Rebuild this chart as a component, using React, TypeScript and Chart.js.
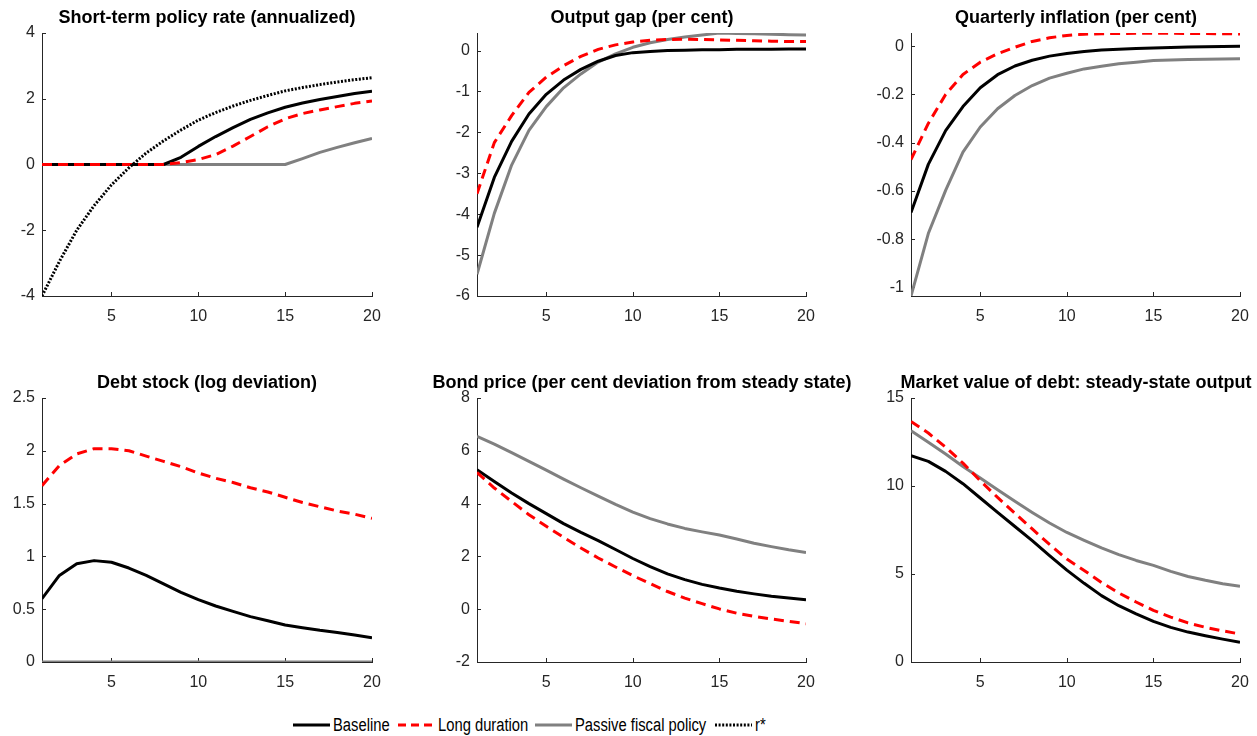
import React, { useEffect, useRef } from "react";
import { Chart, registerables } from "chart.js";

Chart.register(...registerables);

// ---------------- data ----------------
const periods = [1, 2, 3, 4, 5, 6, 7, 8, 9, 10, 11, 12, 13, 14, 15, 16, 17, 18, 19, 20];
const xTickValues = [5, 10, 15, 20];

const policyBaseline = [0, 0, 0, 0, 0, 0, 0, 0, 0.22, 0.55, 0.85, 1.12, 1.37, 1.57, 1.74, 1.87, 1.98, 2.07, 2.16, 2.23];
const policyLong = [0, 0, 0, 0, 0, 0, 0, 0, 0.06, 0.15, 0.3, 0.56, 0.85, 1.15, 1.39, 1.55, 1.66, 1.76, 1.86, 1.93];
const policyPassive = [0, 0, 0, 0, 0, 0, 0, 0, 0, 0, 0, 0, 0, 0, 0, 0.18, 0.37, 0.52, 0.66, 0.79];
const policyRstar = [-4.0, -2.95, -2.0, -1.25, -0.62, -0.1, 0.35, 0.72, 1.05, 1.35, 1.58, 1.78, 1.95, 2.1, 2.24, 2.34, 2.43, 2.51, 2.58, 2.64];
const policyTicks = [-4, -2, 0, 2, 4];

const gapBaseline = [-4.32, -3.1, -2.22, -1.55, -1.07, -0.72, -0.46, -0.26, -0.12, -0.05, -0.02, 0.0, 0.01, 0.02, 0.02, 0.03, 0.03, 0.03, 0.04, 0.04];
const gapLong = [-3.5, -2.25, -1.59, -1.02, -0.65, -0.37, -0.14, 0.03, 0.14, 0.21, 0.25, 0.27, 0.28, 0.27, 0.26, 0.25, 0.24, 0.23, 0.22, 0.22];
const gapPassive = [-5.47, -3.98, -2.8, -1.95, -1.37, -0.91, -0.57, -0.28, -0.08, 0.08, 0.19, 0.27, 0.33, 0.38, 0.43, 0.42, 0.41, 0.4, 0.39, 0.38];
const gapTicks = [-6, -5, -4, -3, -2, -1, 0];

const inflBaseline = [-0.69, -0.49, -0.35, -0.25, -0.172, -0.118, -0.082, -0.058, -0.041, -0.03, -0.022, -0.016, -0.012, -0.009, -0.007, -0.005, -0.003, -0.002, -0.001, 0.0];
const inflLong = [-0.47, -0.32, -0.2, -0.117, -0.066, -0.031, -0.004, 0.02, 0.035, 0.045, 0.05, 0.052, 0.053, 0.054, 0.054, 0.054, 0.053, 0.053, 0.052, 0.051];
const inflPassive = [-1.036, -0.777, -0.598, -0.439, -0.335, -0.259, -0.204, -0.163, -0.132, -0.112, -0.094, -0.083, -0.073, -0.066, -0.059, -0.057, -0.055, -0.054, -0.053, -0.052];
const inflTicks = [-1, -0.8, -0.6, -0.4, -0.2, 0];

const debtBaseline = [0.6, 0.82, 0.93, 0.96, 0.945, 0.89, 0.82, 0.74, 0.66, 0.59, 0.53, 0.48, 0.43, 0.39, 0.35, 0.325, 0.3, 0.28, 0.255, 0.23];
const debtLong = [1.67, 1.86, 1.97, 2.02, 2.02, 2.0, 1.95, 1.9, 1.85, 1.79, 1.74, 1.7, 1.65, 1.61, 1.56, 1.51, 1.47, 1.43, 1.4, 1.36];
const debtPassive = [0, 0, 0, 0, 0, 0, 0, 0, 0, 0, 0, 0, 0, 0, 0, 0, 0, 0, 0, 0];
const debtTicks = [0, 0.5, 1, 1.5, 2, 2.5];

const bondBaseline = [5.28, 4.84, 4.4, 4.0, 3.62, 3.24, 2.91, 2.6, 2.26, 1.92, 1.61, 1.34, 1.12, 0.94, 0.8, 0.68, 0.58, 0.49, 0.42, 0.36];
const bondLong = [5.18, 4.59, 4.08, 3.58, 3.14, 2.72, 2.32, 1.94, 1.6, 1.27, 0.97, 0.67, 0.42, 0.21, 0.01, -0.15, -0.27, -0.37, -0.46, -0.55];
const bondPassive = [6.55, 6.25, 5.93, 5.6, 5.27, 4.93, 4.6, 4.28, 3.97, 3.68, 3.43, 3.23, 3.06, 2.93, 2.81, 2.66, 2.5, 2.37, 2.25, 2.15];
const bondTicks = [-2, 0, 2, 4, 6, 8];

const mvBaseline = [11.72, 11.4, 10.83, 10.13, 9.32, 8.5, 7.7, 6.9, 6.05, 5.22, 4.47, 3.77, 3.2, 2.74, 2.31, 1.97, 1.7, 1.49, 1.3, 1.12];
const mvLong = [13.67, 13.01, 12.2, 11.3, 10.3, 9.35, 8.45, 7.56, 6.68, 5.85, 5.2, 4.52, 3.92, 3.41, 2.93, 2.55, 2.22, 1.97, 1.77, 1.59];
const mvPassive = [13.14, 12.48, 11.82, 11.11, 10.45, 9.79, 9.13, 8.5, 7.9, 7.36, 6.91, 6.48, 6.1, 5.77, 5.49, 5.15, 4.86, 4.64, 4.45, 4.3];
const mvTicks = [0, 5, 10, 15];

const seriesNames = ["Baseline", "Long duration", "Passive fiscal policy", "r*"];

type Panel = {
  title: string;
  yMin: number;
  yMax: number;
  yTicks: number[];
  baseline: number[];
  long: number[];
  passive: number[];
  rstar?: number[];
};

const panels: Panel[] = [
  { title: "Short-term policy rate (annualized)", yMin: -4, yMax: 4, yTicks: policyTicks, baseline: policyBaseline, long: policyLong, passive: policyPassive, rstar: policyRstar },
  { title: "Output gap (per cent)", yMin: -6, yMax: 0.43, yTicks: gapTicks, baseline: gapBaseline, long: gapLong, passive: gapPassive },
  { title: "Quarterly inflation (per cent)", yMin: -1.036, yMax: 0.055, yTicks: inflTicks, baseline: inflBaseline, long: inflLong, passive: inflPassive },
  { title: "Debt stock (log deviation)", yMin: 0, yMax: 2.5, yTicks: debtTicks, baseline: debtBaseline, long: debtLong, passive: debtPassive },
  { title: "Bond price (per cent deviation from steady state)", yMin: -2, yMax: 8, yTicks: bondTicks, baseline: bondBaseline, long: bondLong, passive: bondPassive },
  { title: "Market value of debt: steady-state output", yMin: 0, yMax: 15, yTicks: mvTicks, baseline: mvBaseline, long: mvLong, passive: mvPassive },
];

// ---------------- styles / layout ----------------
const FONT = "Arial, 'Liberation Sans', Helvetica, sans-serif";
const AXIS = "#262626";
const GREY = "#808080";
const RED = "#ff0000";
const CANVAS_W = 440;

const cols = [
  { L: 42, R: 372 },
  { L: 477, R: 806 },
  { L: 911, R: 1240 },
];
const rows = [
  { top: 0, h: 330, T: 33, B: 296 },
  { top: 365, h: 335, T: 398, B: 662 },
];

const innerTicks = {
  id: "innerTicks",
  beforeDatasetsDraw(chart: any) {
    const { ctx, chartArea } = chart;
    const xs = chart.scales.x;
    const ys = chart.scales.y;
    ctx.save();
    ctx.strokeStyle = AXIS;
    ctx.lineWidth = 1;
    ctx.beginPath();
    xs.ticks.forEach((t: any) => {
      const px = Math.round(xs.getPixelForValue(t.value)) + 0.5;
      ctx.moveTo(px, chartArea.bottom);
      ctx.lineTo(px, chartArea.bottom - 4);
    });
    ys.ticks.forEach((t: any) => {
      const py = Math.round(ys.getPixelForValue(t.value)) + 0.5;
      ctx.moveTo(chartArea.left, py);
      ctx.lineTo(chartArea.left + 4, py);
    });
    ctx.stroke();
    ctx.restore();
  },
};

function PanelChart({ panel, col, row }: { panel: Panel; col: { L: number; R: number }; row: { top: number; h: number; T: number; B: number } }) {
  const ref = useRef<HTMLCanvasElement>(null);
  const left = Math.round((col.L + col.R) / 2 - CANVAS_W / 2);
  const yw = col.L - left;
  const pr = left + CANVAS_W - col.R;
  const titleH = row.T - row.top;
  const xh = row.top + row.h - row.B;

  useEffect(() => {
    const toXY = (arr: number[]) => periods.map((x, i) => ({ x, y: arr[i] }));
    const datasets: any[] = [];
    if (panel.rstar) {
      datasets.push({ label: seriesNames[3], data: toXY(panel.rstar), borderColor: "#000", borderWidth: 3, borderDash: [2, 1.6] });
    }
    datasets.push({ label: seriesNames[1], data: toXY(panel.long), borderColor: RED, borderWidth: 3, borderDash: [10, 6] });
    datasets.push({ label: seriesNames[0], data: toXY(panel.baseline), borderColor: "#000", borderWidth: 3 });
    datasets.push({ label: seriesNames[2], data: toXY(panel.passive), borderColor: GREY, borderWidth: 3 });

    const chart = new Chart(ref.current as HTMLCanvasElement, {
      type: "line",
      data: { datasets },
      options: {
        animation: false,
        responsive: false,
        maintainAspectRatio: false,
        layout: { padding: 0 },
        elements: {
          point: { radius: 0 },
          line: { tension: 0, borderCapStyle: "butt", borderJoinStyle: "round", fill: false },
        },
        plugins: {
          legend: { display: false },
          tooltip: { enabled: false },
          title: {
            display: true,
            text: panel.title,
            color: "#000",
            font: { family: FONT, size: 18, weight: "bold", lineHeight: 1.2 },
            padding: { top: 7, bottom: titleH - 21.6 - 7 },
          },
        },
        scales: {
          x: {
            type: "linear",
            min: 1,
            max: 20,
            grid: { display: false, drawTicks: false },
            border: { display: true, color: AXIS, width: 1 },
            ticks: { color: AXIS, font: { family: FONT, size: 16 }, padding: 11, maxRotation: 0, autoSkip: false },
            afterBuildTicks: (s: any) => {
              s.ticks = xTickValues.map((v) => ({ value: v }));
            },
            afterFit: (s: any) => {
              s.height = xh;
              s.paddingRight = pr;
              s.paddingLeft = 0;
            },
          },
          y: {
            type: "linear",
            min: panel.yMin,
            max: panel.yMax,
            grid: { display: false, drawTicks: false },
            border: { display: true, color: AXIS, width: 1 },
            ticks: {
              color: AXIS,
              font: { family: FONT, size: 16 },
              padding: 7,
              autoSkip: false,
              callback: (v: any) => String(v),
            },
            afterBuildTicks: (s: any) => {
              s.ticks = panel.yTicks.map((v) => ({ value: v }));
            },
            afterFit: (s: any) => {
              s.width = yw;
            },
          },
        },
      } as any,
      plugins: [innerTicks],
    });
    return () => chart.destroy();
  }, []);

  return (
    <canvas
      ref={ref}
      width={CANVAS_W}
      height={row.h}
      style={{ position: "absolute", left, top: row.top, width: CANVAS_W, height: row.h }}
    />
  );
}

function LegendItem({ x, label, color, dash }: { x: number; label: string; color: string; dash?: string }) {
  return (
    <div style={{ position: "absolute", left: x, top: 714, height: 22, display: "flex", alignItems: "center", whiteSpace: "nowrap" }}>
      <svg width={37} height={6} style={{ display: "block" }}>
        <line x1={0} y1={3} x2={37} y2={3} stroke={color} strokeWidth={3} strokeDasharray={dash} />
      </svg>
      <span
        style={{
          marginLeft: 3,
          fontFamily: FONT,
          fontSize: 18,
          lineHeight: "22px",
          color: "#000",
          display: "inline-block",
          transform: "scaleX(0.82)",
          transformOrigin: "left center",
        }}
      >
        {label}
      </span>
    </div>
  );
}

export default function App() {
  return (
    <div style={{ position: "absolute", left: 0, top: 0, width: 1257, height: 736, overflow: "hidden", background: "#fff" }}>
      {panels.map((p, i) => (
        <PanelChart key={i} panel={p} col={cols[i % 3]} row={rows[Math.floor(i / 3)]} />
      ))}
      <LegendItem x={293} label={seriesNames[0]} color="#000" />
      <LegendItem x={398} label={seriesNames[1]} color={RED} dash="8 5" />
      <LegendItem x={535} label={seriesNames[2]} color={GREY} />
      <LegendItem x={715} label={seriesNames[3]} color="#000" dash="2 1.6" />
    </div>
  );
}
